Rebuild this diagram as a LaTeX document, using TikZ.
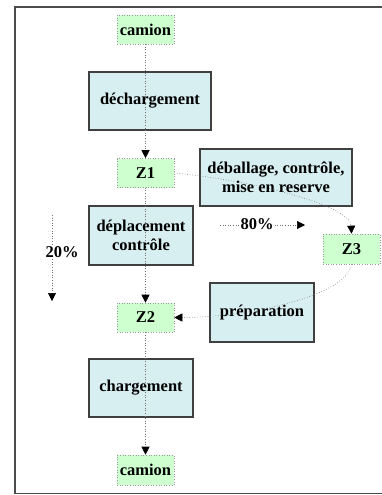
\documentclass[tikz,border=0pt]{standalone}
\usepackage{fontspec}
\setmainfont{Liberation Serif}
\usetikzlibrary{arrows.meta}
\definecolor{boxcyan}{RGB}{215,239,241}
\definecolor{zonegreen}{RGB}{206,255,206}
\begin{document}
\begin{tikzpicture}[x=1pt,y=-1pt,
  every node/.style={font=\fontsize{16.5}{18.7}\selectfont\bfseries, inner sep=0pt, align=center},
  proc/.style={draw=black!75, line width=1.1pt, fill=boxcyan},
  zone/.style={draw=black!40, dotted, line width=0.6pt, fill=zonegreen, minimum width=57pt, minimum height=29pt},
  flow/.style={draw=black!55, dotted, line width=0.6pt, -{Triangle[black,length=8pt,width=8pt]}},
  lbl/.style={fill=white, inner sep=1pt}]
\useasboundingbox (0,0) rectangle (382,495);
\draw[black!70, line width=1.4pt] (382,7) -- (15,7) -- (15,493.5) -- (382,493.5);
% nodes
\node[zone] (cam1) at (145.5,29.5) {camion};
\node[proc, minimum width=122pt, minimum height=58pt] (dech) at (150,101) {déchargement};
\node[zone] (z1) at (145.5,173) {Z1};
\node[proc, minimum width=152pt, minimum height=57pt] (deb) at (276,177.5) {déballage, contrôle,\\mise en reserve};
\node[proc, minimum width=104pt, minimum height=59pt] (depl) at (141,235.5) {déplacement\\contrôle};
\node[zone, minimum height=30pt] (z3) at (351.5,249) {Z3};
\node[proc, minimum width=104pt, minimum height=59pt] (prep) at (262,312.5) {préparation};
\node[zone] (z2) at (145.5,317.5) {Z2};
\node[proc, minimum width=104pt, minimum height=58pt] (charg) at (141,388) {chargement};
\node[zone, minimum height=30pt] (cam2) at (145.5,470) {camion};
% connectors
\draw[flow] (cam1.south) -- (z1.north);
\draw[flow] (z1.south) -- (z2.north);
\draw[flow] (z2.south) -- (cam2.north);
\draw[flow] (z1.east) .. controls (250,180) and (350.5,205) .. (z3.north);
\draw[flow] (z3.south) .. controls (348,295) and (250,317.5) .. (z2.east);
% percentage indicators
\coordinate (p20a) at (52,215);
\coordinate (p20b) at (52,301);
\draw[flow] (p20a) -- (p20b);
\node[lbl] (l20) at (62,252) {20\%};
\coordinate (p80a) at (220,225);
\coordinate (p80b) at (305,225);
\draw[flow] (p80a) -- (p80b);
\node[lbl] (l80) at (257,224) {80\%};
\end{tikzpicture}
\end{document}
